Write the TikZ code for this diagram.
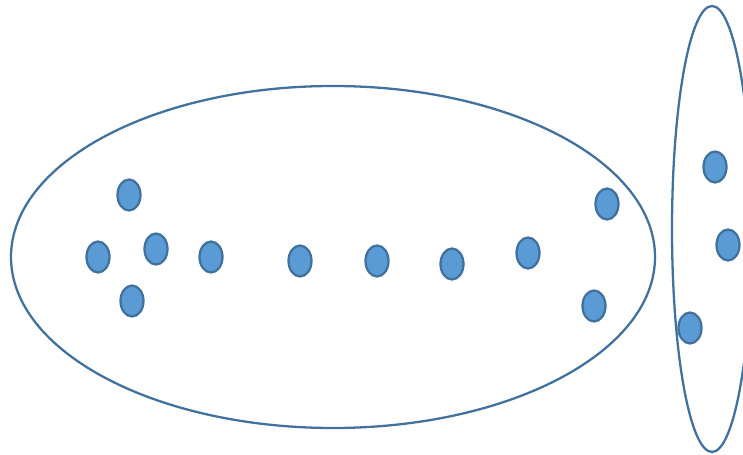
\documentclass[tikz,border=0pt]{standalone}
\usetikzlibrary{shapes.geometric}

\definecolor{dotfill}{RGB}{91,155,213}
\definecolor{dotline}{RGB}{65,113,156}

\begin{document}
\begin{tikzpicture}[x=0.02cm, y=-0.02cm,
    dot/.style={ellipse, draw=dotline, fill=dotfill, line width=1.3pt,
                minimum width=0.46cm, minimum height=0.62cm, inner sep=0pt},
    group/.style={draw=dotline, line width=1.3pt}]
              \useasboundingbox (0,0) rectangle (743,455);
              \clip (0,0) rectangle (743,455);

              % the two groups
              \draw[group] (333,257) ellipse [x radius=322, y radius=171];
              \draw[group] (712,229) ellipse [x radius=40, y radius=223];

              % members of the left group
              \node[dot] (a1) at (129,195) {};
              \node[dot] (a2) at (98,257) {};
              \node[dot] (a3) at (156,249) {};
              \node[dot] (a4) at (132,301) {};
              \node[dot] (a5) at (211,257) {};
              \node[dot] (a6) at (300,261) {};
              \node[dot] (a7) at (377,261) {};
              \node[dot] (a8) at (452,264) {};
              \node[dot] (a9) at (528,253) {};
              \node[dot] (a10) at (607,204) {};
              \node[dot] (a11) at (594,306) {};

              % members of the right group
              \node[dot] (b1) at (715,167) {};
              \node[dot] (b2) at (728,245) {};
              \node[dot] (b3) at (690,328) {};
            \end{tikzpicture}
\end{document}
